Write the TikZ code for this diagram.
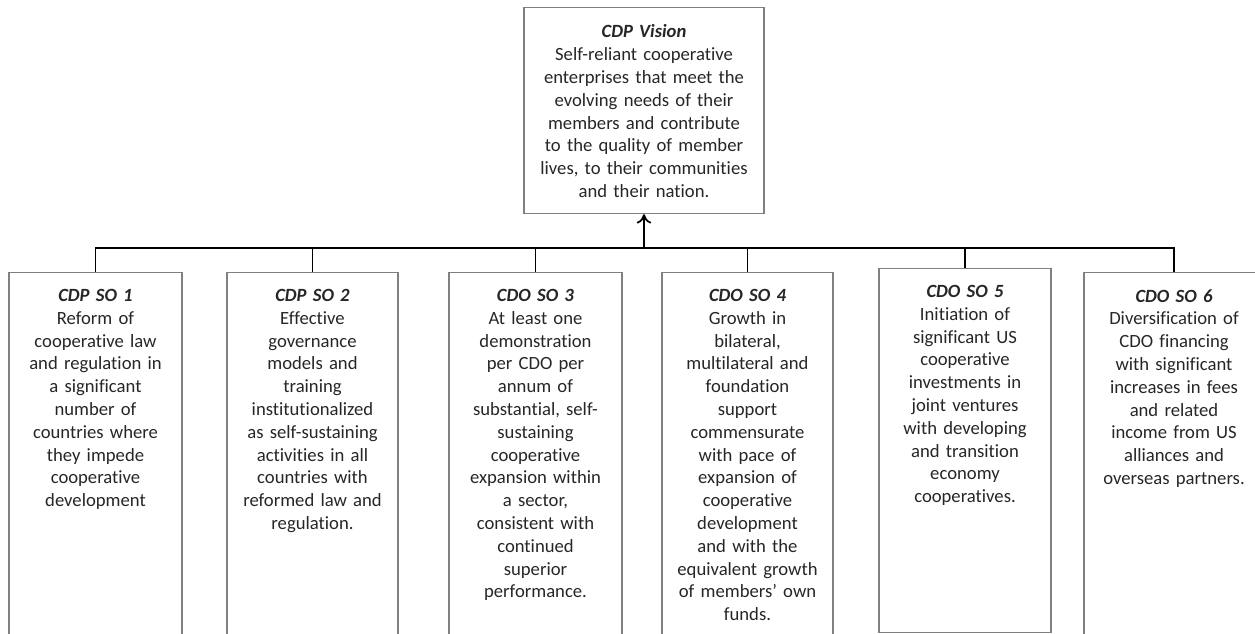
\documentclass[tikz,border=0pt]{standalone}
\usepackage{fontspec}
\setmainfont[RawFeature={-liga;-calt;-clig;-dlig}]{Carlito}
\usetikzlibrary{arrows.meta}
\definecolor{boxgray}{RGB}{128,128,128}
\definecolor{txt}{RGB}{38,38,38}
\tikzset{
  sobox/.style={draw=boxgray, line width=0.9pt, rectangle, inner sep=0pt, minimum width=#1*0.75pt, anchor=north},
  sotext/.style={text=txt, align=center, text width=168*0.75pt, inner sep=0pt, anchor=north, font=\fontsize{14pt}{17.1pt}\selectfont},
  link/.style={line width=1.3pt, black},
}
\newcommand{\hd}[1]{\textbf{\textit{#1}}}
\begin{document}
\begin{tikzpicture}[x=0.75pt,y=-0.75pt]
\useasboundingbox (0,0) rectangle (1255,634);
\clip (0,0) rectangle (1255,634);
% vision
\node[sobox=240, minimum height=206*0.75pt] (vision) at (644,7) {};
\node[sotext, text width=236*0.75pt] (visiont) at ([yshift=-17.5*0.75pt]vision.north) {\hd{CDP Vision}\\Self-reliant cooperative\\enterprises that meet the\\evolving needs of their\\members and contribute\\to the quality of member\\lives, to their communities\\and their nation.};
% boxes
\node[sobox=173, minimum height=400*0.75pt] (so1) at (95.5,272) {};
\node[sobox=171, minimum height=400*0.75pt] (so2) at (312.5,272) {};
\node[sobox=173, minimum height=400*0.75pt] (so3) at (535.5,272) {};
\node[sobox=171, minimum height=400*0.75pt] (so4) at (747.5,272) {};
\node[sobox=172, minimum height=364*0.75pt] (so5) at (965,268) {};
\node[sobox=180, minimum height=400*0.75pt] (so6) at (1174,272) {};
\node[sotext] (so1t) at ([yshift=-17*0.75pt]so1.north) {\hd{CDP SO 1}\\Reform of\\cooperative law\\and regulation in\\a significant\\number of\\countries where\\they impede\\cooperative\\development};
\node[sotext] (so2t) at ([yshift=-17*0.75pt]so2.north) {\hd{CDP SO 2}\\Effective\\governance\\models and\\training\\institutionalized\\as self-sustaining\\activities in all\\countries with\\reformed law and\\regulation.};
\node[sotext] (so3t) at ([yshift=-17*0.75pt]so3.north) {\hd{CDO SO 3}\\At least one\\demonstration\\per CDO per\\annum of\\substantial, self-\\sustaining\\cooperative\\expansion within\\a sector,\\consistent with\\continued\\superior\\performance.};
\node[sotext] (so4t) at ([yshift=-17*0.75pt]so4.north) {\hd{CDO SO 4}\\Growth in\\bilateral,\\multilateral and\\foundation\\support\\commensurate\\with pace of\\expansion of\\cooperative\\development\\and with the\\equivalent growth\\of members’ own\\funds.};
\node[sotext] (so5t) at ([yshift=-17*0.75pt]so5.north) {\hd{CDO SO 5}\\Initiation of\\significant US\\cooperative\\investments in\\joint ventures\\with developing\\and transition\\economy\\cooperatives.};
\node[sotext] (so6t) at ([yshift=-17*0.75pt]so6.north) {\hd{CDO SO 6}\\Diversification of\\CDO financing\\with significant\\increases in fees\\and related\\income from US\\alliances and\\overseas partners.};
% connectors
\coordinate (bar) at (644,248);
\foreach \b in {so1,so2,so3,so4,so5,so6}{
  \draw[link] (\b.north) |- (bar);
}
\draw[link, -{To[length=7pt,width=11pt]}] (bar) -- (vision.south);
\end{tikzpicture}
\end{document}
